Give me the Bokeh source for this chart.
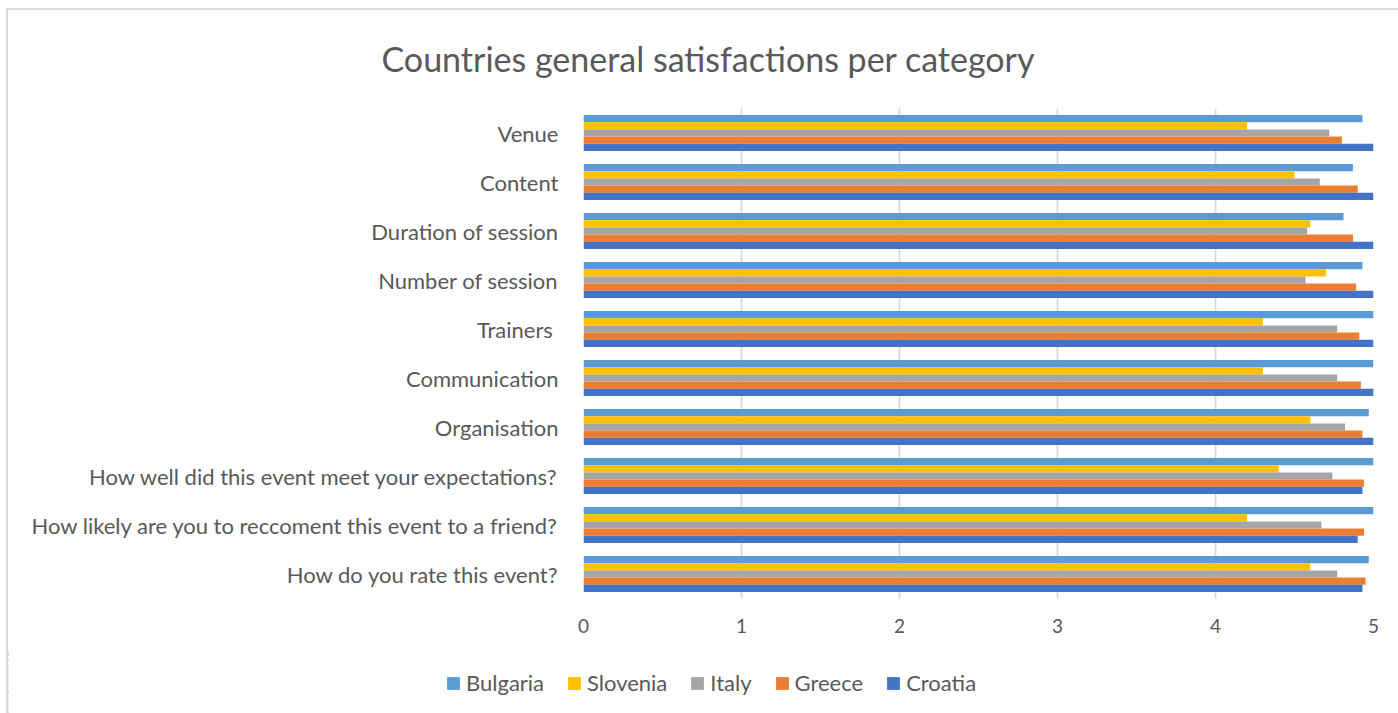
from bokeh.plotting import figure
from bokeh.layouts import column, row
from bokeh.models import ColumnDataSource, FactorRange, Legend, LegendItem, FixedTicker
from bokeh.transform import dodge
from bokeh.embed import file_html
from bokeh.resources import INLINE

categories = [
    "Venue",
    "Content",
    "Duration of session",
    "Number of session",
    "Trainers ",
    "Communication",
    "Organisation",
    "How well did this event meet your expectations?",
    "How likely are you to reccoment this event to a friend?",
    "How do you rate this event?",
]
countries = ["Bulgaria", "Slovenia", "Italy", "Greece", "Croatia"]
bulgaria = [4.93, 4.87, 4.81, 4.93, 5.00, 5.00, 4.97, 5.00, 5.00, 4.97]
slovenia = [4.20, 4.50, 4.60, 4.70, 4.30, 4.30, 4.60, 4.40, 4.20, 4.60]
italy = [4.72, 4.66, 4.58, 4.57, 4.77, 4.77, 4.82, 4.74, 4.67, 4.77]
greece = [4.80, 4.90, 4.87, 4.89, 4.91, 4.92, 4.93, 4.94, 4.94, 4.95]
croatia = [5.00, 5.00, 5.00, 5.00, 5.00, 5.00, 5.00, 4.93, 4.90, 4.93]
x_ticks = [0, 1, 2, 3, 4, 5]
title_text = "Countries general satisfactions per category"

colors = ["#5B9BD5", "#FFC000", "#A5A5A5", "#ED7D31", "#4472C4"]

FONT = "Lato"
TXT = "#595959"

source = ColumnDataSource(dict(cat=categories, Bulgaria=bulgaria, Slovenia=slovenia,
                               Italy=italy, Greece=greece, Croatia=croatia))

W = 1390
H_MAIN = 640
H_LEG = 63

p = figure(width=W, height=H_MAIN, output_backend="svg", toolbar_location=None,
           y_range=FactorRange(factors=list(reversed(categories))),
           x_range=(0, 5), title=title_text)
p.min_border_left = 575
p.min_border_right = 25
p.min_border_top = 97
p.min_border_bottom = 52
p.outline_line_color = None
p.background_fill_color = "white"
p.border_fill_color = "white"

p.title.align = "left"
p.title.offset = -202
p.title.vertical_align = "top"
p.title.standoff = 55
p.title.text_font = FONT
p.title.text_font_size = "34px"
p.title.text_font_style = "normal"
p.title.text_color = TXT

bar_h = 0.1466
offsets = [2 * bar_h, bar_h, 0, -bar_h, -2 * bar_h]
for name, col, off in zip(countries, colors, offsets):
    p.hbar(y=dodge("cat", off, range=p.y_range), left=0, right=name, height=bar_h,
           source=source, fill_color=col, line_color=None)

p.ygrid.grid_line_color = None
p.xgrid.grid_line_color = "#d9d9d9"
p.xgrid.grid_line_width = 1.8
p.xaxis.ticker = FixedTicker(ticks=x_ticks)

p.xaxis.axis_line_color = None
p.xaxis.major_tick_line_color = None
p.xaxis.minor_tick_line_color = None
p.xaxis.major_tick_out = 0
p.xaxis.major_label_standoff = 20
p.xaxis.major_label_text_font = FONT
p.xaxis.major_label_text_font_size = "19px"
p.xaxis.major_label_text_color = TXT

p.yaxis.axis_line_color = None
p.yaxis.major_tick_line_color = None
p.yaxis.major_tick_out = 0
p.yaxis.major_label_standoff = 25
p.yaxis.major_label_text_font = FONT
p.yaxis.major_label_text_font_size = "22px"
p.yaxis.major_label_text_color = TXT

# legend strip below the chart (its bars are out of view; only the legend shows)
lp = figure(width=W, height=H_LEG, output_backend="svg", toolbar_location=None,
            x_range=(100, 101), y_range=FactorRange(factors=list(reversed(categories))),
            min_border=0)
lp.axis.visible = False
lp.grid.visible = False
lp.outline_line_color = None
lp.border_fill_color = "white"
items = []
for name, col, off in zip(countries, colors, offsets):
    r = lp.hbar(y=dodge("cat", off, range=lp.y_range), left=0, right=name, height=bar_h,
                source=source, fill_color=col, line_color=None)
    items.append(LegendItem(label=name, renderers=[r]))

legend = Legend(items=items, orientation="horizontal", location=(437, 17),
                glyph_width=16, glyph_height=16, label_standoff=5, spacing=22,
                padding=0, margin=0, border_line_color=None, background_fill_alpha=0,
                label_text_font=FONT, label_text_font_size="22px", label_text_color=TXT)
lp.add_layout(legend, "center")

layout = column(p, row(lp), spacing=0,
                styles={"margin-left": "6px", "margin-top": "8px",
                        "border-left": "2px solid #d9d9d9", "border-top": "2px solid #d9d9d9"})

open("out.html", "w").write(file_html(layout, INLINE))
